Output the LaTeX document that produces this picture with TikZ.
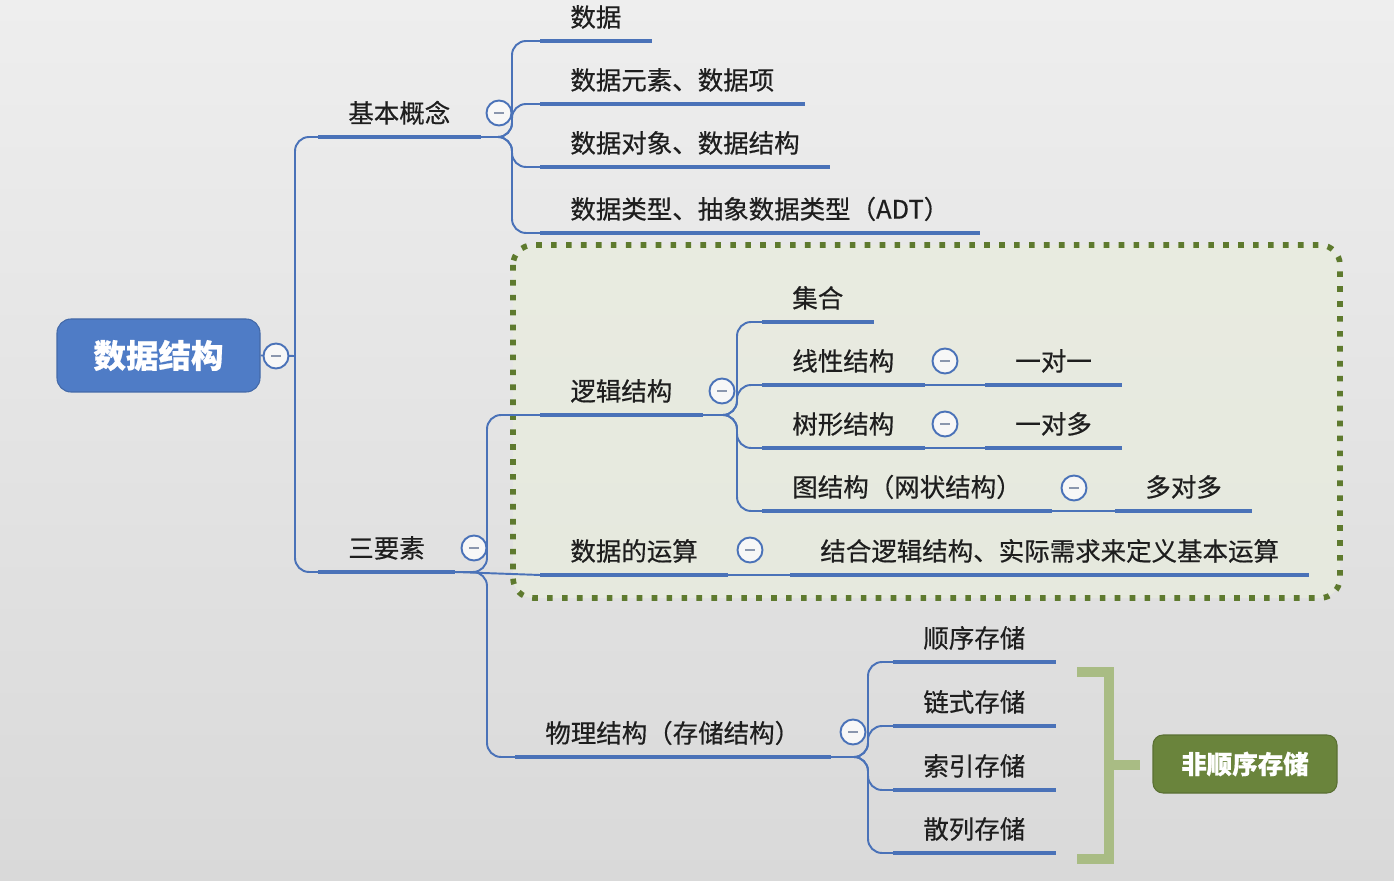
\documentclass[tikz,border=0pt]{standalone}
\usepackage{fontspec}
\newfontfamily\cjk[FakeBold=0.5]{Noto Sans CJK SC}
\definecolor{DSBlue}{HTML}{4A72B8}
\definecolor{DSRoot}{HTML}{4F7CC6}
\definecolor{DSInk}{HTML}{1E1E1E}
\definecolor{DSOlive}{HTML}{5E7A2E}
\definecolor{DSPale}{HTML}{E9EDDE}
\definecolor{DSBrace}{HTML}{A9BC84}
\definecolor{DSGreen}{HTML}{6A843C}
\definecolor{DSGray}{HTML}{8A96AD}
\definecolor{DSBgTop}{HTML}{EEEEEE}
\definecolor{DSBgBot}{HTML}{D9D9D9}

\tikzset{
  uline/.style={draw=DSBlue,line width=2.8pt},
  topic/.style={anchor=south west,inner xsep=0.6cm,inner ysep=0.28cm,text depth=0pt,text=DSInk,
    append after command={(\tikzlastnode.south west) edge[uline] (\tikzlastnode.south east)}},
  link/.style={draw=DSBlue,line width=1.1pt,rounded corners=8pt},
  fold/.style={circle,draw=DSBlue,line width=1.1pt,fill=white!94!gray,minimum size=0.5cm,inner sep=0pt,
    path picture={\draw[DSGray,line width=1.2pt] ([xshift=-2.6pt]path picture bounding box.center) -- ([xshift=2.6pt]path picture bounding box.center);}},
  rootbox/.style={fill=DSRoot,draw=DSRoot!85!black,line width=0.6pt,rounded corners=0.28cm,minimum width=4.06cm,minimum height=1.46cm,
    text=white,font=\cjk\bfseries\fontsize{18.5}{22}\selectfont},
  tagbox/.style={fill=DSGreen,draw=DSGreen!85!black,line width=0.6pt,rounded corners=0.2cm,minimum width=3.68cm,minimum height=1.16cm,
    text=white,font=\cjk\bfseries\fontsize{14.5}{17}\selectfont}
}

\begin{document}
\begin{tikzpicture}[line join=round,font=\cjk\fontsize{14.5}{17}\selectfont]
  \useasboundingbox (0,0) rectangle (27.88,-17.62);
  \fill[top color=DSBgTop,bottom color=DSBgBot] (0,0) rectangle (27.88,-17.62);
  \filldraw[fill=DSPale,fill opacity=0.7,draw=DSOlive,line width=3.2pt,dash pattern=on 3.2pt off 5.3pt,rounded corners=0.4cm] (10.26,-4.9) rectangle (26.8,-11.96);

  \node[rootbox] (ds) at (3.17,-7.11) {数据结构};
  \coordinate (rb) at (5.9,-7.12);

  \node[topic] (jb) at (6.36,-2.74) {基本概念};
  \node[topic] (sy) at (6.36,-11.44) {三要素};
  \coordinate (bjb) at (10.24,-2.74);
  \coordinate (bsy) at (9.74,-11.44);

  \node[topic] (sj) at (10.8,-0.82) {数据};
  \node[topic] (ys) at (10.8,-2.08) {数据元素、数据项};
  \node[topic] (dx) at (10.8,-3.34) {数据对象、数据结构};
  \node[topic] (lx) at (10.8,-4.66) {数据类型、抽象数据类型（ADT）};

  \node[topic] (lj) at (10.8,-8.3) {逻辑结构};
  \node[topic] (ysf) at (10.8,-11.5) {数据的运算};
  \node[topic] (wl) at (10.3,-15.14) {物理结构（存储结构）};
  \coordinate (blj) at (14.74,-8.3);
  \coordinate (bwl) at (17.36,-15.14);

  \node[topic] (jh) at (15.24,-6.44) {集合};
  \node[topic] (xx) at (15.24,-7.7) {线性结构};
  \node[topic] (sx) at (15.24,-8.96) {树形结构};
  \node[topic] (tj) at (15.24,-10.22) {图结构（网状结构）};
  \node[topic] (yy) at (19.7,-7.7) {一对一};
  \node[topic] (yd) at (19.7,-8.96) {一对多};
  \node[topic] (dd) at (22.3,-10.22) {多对多};
  \node[topic] (jd) at (15.8,-11.5) {结合逻辑结构、实际需求来定义基本运算};

  \node[topic] (sxc) at (17.86,-13.24) {顺序存储};
  \node[topic] (lsc) at (17.86,-14.52) {链式存储};
  \node[topic] (syc) at (17.86,-15.8) {索引存储};
  \node[topic] (slc) at (17.86,-17.06) {散列存储};

  \draw[DSBrace,line width=5.6pt,line join=miter] (21.54,-13.44) -- (22.18,-13.44) -- (22.18,-17.18) -- (21.54,-17.18);
  \draw[DSBrace,line width=5.6pt] (22.18,-15.3) -- (22.8,-15.3);
  \node[tagbox] (fsc) at (24.9,-15.28) {非顺序存储};

  \draw[link] (ds.east) -- (rb);
  \draw[link] (rb) |- (jb.south west);
  \draw[link] (rb) |- (sy.south west);

  \draw[link] (jb.south east) -- (bjb) |- (sj.south west);
  \draw[link] (jb.south east) -- (bjb) |- (ys.south west);
  \draw[link] (jb.south east) -- (bjb) |- (dx.south west);
  \draw[link] (jb.south east) -- (bjb) |- (lx.south west);

  \draw[link] (sy.south east) -- (bsy) |- (lj.south west);
  \draw[link] (sy.south east) -- (ysf.south west);
  \draw[link] (sy.south east) -- (bsy) |- (wl.south west);

  \draw[link] (lj.south east) -- (blj) |- (jh.south west);
  \draw[link] (lj.south east) -- (blj) |- (xx.south west);
  \draw[link] (lj.south east) -- (blj) |- (sx.south west);
  \draw[link] (lj.south east) -- (blj) |- (tj.south west);
  \draw[link] (xx.south east) -- (yy.south west);
  \draw[link] (sx.south east) -- (yd.south west);
  \draw[link] (tj.south east) -- (dd.south west);
  \draw[link] (ysf.south east) -- (jd.south west);

  \draw[link] (wl.south east) -- (bwl) |- (sxc.south west);
  \draw[link] (wl.south east) -- (bwl) |- (lsc.south west);
  \draw[link] (wl.south east) -- (bwl) |- (syc.south west);
  \draw[link] (wl.south east) -- (bwl) |- (slc.south west);

  \node[fold] (fr) at (5.52,-7.12) {};
  \node[fold] (fjb) at (9.98,-2.26) {};
  \node[fold] (fsy) at (9.48,-10.96) {};
  \node[fold] (flj) at (14.44,-7.82) {};
  \node[fold] (fysf) at (15.0,-11.0) {};
  \node[fold] (fwl) at (17.06,-14.64) {};
  \node[fold] (fxx) at (18.9,-7.22) {};
  \node[fold] (fsx) at (18.9,-8.48) {};
  \node[fold] (ftj) at (21.48,-9.76) {};
\end{tikzpicture}
\end{document}
